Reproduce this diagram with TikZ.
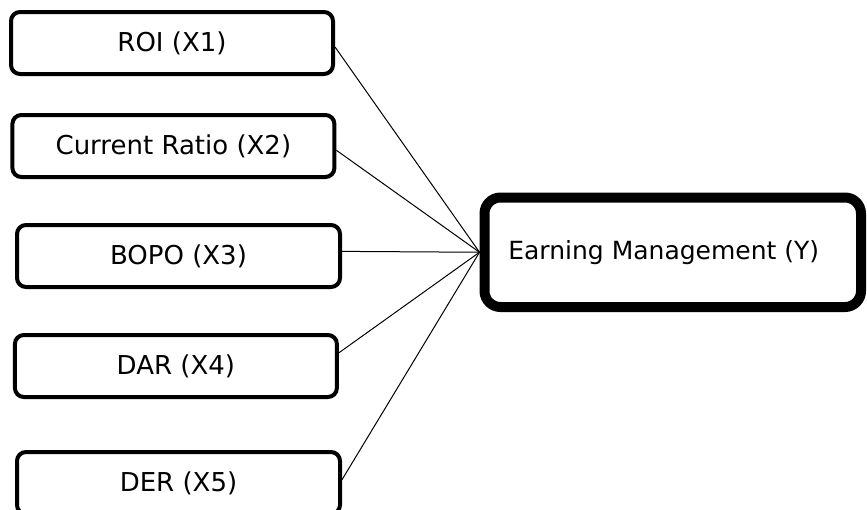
\documentclass[tikz,border=0pt]{standalone}
\usepackage{fontspec}
\setmainfont{DejaVu Sans}
\usetikzlibrary{calc}
\begin{document}
\begin{tikzpicture}[x=1pt,y=-1pt,
  varbox/.style={draw=black, line width=4pt, rounded corners=9pt, fill=white,
    minimum width=322pt, minimum height=62pt, inner sep=0pt,
    font=\fontsize{26}{30}\selectfont},
  ybox/.style={draw=black, line width=10pt, rounded corners=16pt, fill=white,
    minimum width=376.5pt, minimum height=109.5pt, inner sep=0pt,
    font=\fontsize{25}{30}\selectfont},
  link/.style={draw=black, line width=1pt}]
\useasboundingbox (0,0) rectangle (867,509);
\clip (0,0) rectangle (867,509);
\fill[white] (0,0) rectangle (867,509);
\node[varbox] (roi)  at (172,43)    {ROI (X1)};
\node[varbox] (cr)   at (173.4,146) {Current Ratio (X2)};
\node[varbox, minimum width=323pt] (bopo) at (178.5,256) {BOPO (X3)};
\node[varbox] (dar)  at (175.9,366) {DAR (X4)};
\node[varbox, minimum width=323pt] (der)  at (178.5,483) {DER (X5)};
\node[ybox] (em) at (672.75,252.25) {\hspace*{-18pt}Earning Management (Y)};
\draw[link] ($(roi.north east)!0.56!(roi.south east)$) -- (em.west);
\draw[link] ($(cr.north east)!0.565!(cr.south east)$) -- (em.west);
\draw[link] ($(bopo.north east)!0.43!(bopo.south east)$) -- (em.west);
\draw[link] ($(dar.north east)!0.3!(dar.south east)$) -- (em.west);
\draw[link] ($(der.north east)!0.45!(der.south east)$) -- (em.west);
\end{tikzpicture}
\end{document}
